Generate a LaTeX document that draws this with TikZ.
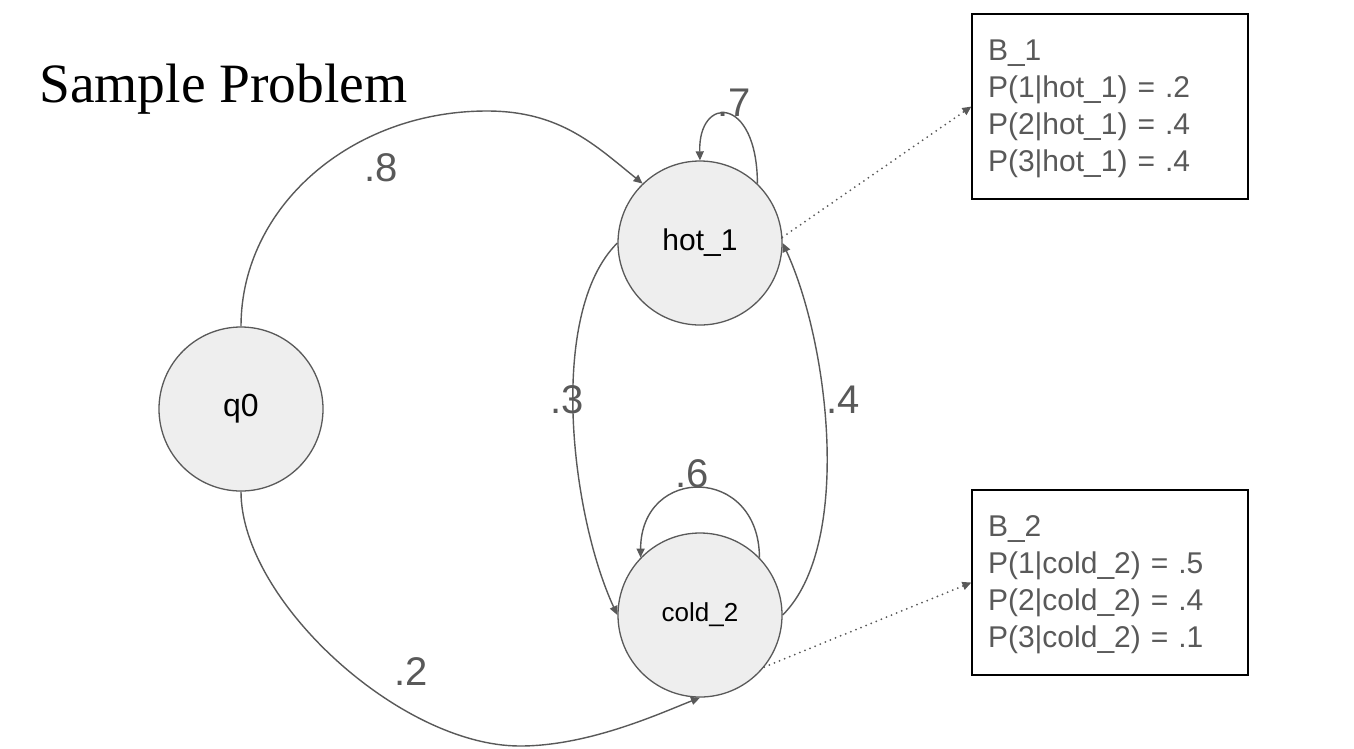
\documentclass[tikz,border=0pt]{standalone}
\usepackage{fontspec}
\setmainfont{Liberation Sans}
\newfontfamily\titlefont{Liberation Serif}
\usetikzlibrary{arrows.meta}
\definecolor{edgegray}{HTML}{595959}
\definecolor{nodefill}{HTML}{EEEEEE}
\begin{document}
\begin{tikzpicture}[x=1pt,y=-1pt,
  stnode/.style={circle,draw=edgegray,fill=nodefill,line width=1.3pt,minimum size=164pt,inner sep=0pt},
  trans/.style={draw=edgegray,line width=1.4pt,-{Triangle[length=9pt,width=8pt]}},
  prob/.style={text=edgegray,font=\fontsize{40}{40}\selectfont,inner sep=0pt},
  emis/.style={draw=black,line width=1.2pt,minimum width=276pt,minimum height=185pt,text width=244pt,align=left,inner xsep=16pt,text=edgegray,font=\fontsize{30}{37}\selectfont},
  link/.style={draw=edgegray,line width=2pt,line cap=round,dash pattern=on 0pt off 5.5pt,-{Triangle[length=9pt,width=8pt]}}]
\useasboundingbox (0,0) rectangle (1354,748);
\fill[white] (0,0) rectangle (1354,748);

\node[anchor=base west,font=\titlefont\fontsize{55.5}{55.5}\selectfont,inner sep=0pt] (title) at (39,102) {Sample Problem};

\node[stnode,font=\fontsize{32}{32}\selectfont] (q0) at (241,409) {q0};
\node[stnode,font=\fontsize{30}{30}\selectfont] (hot) at (700,243) {hot\_1};
\node[stnode,font=\fontsize{26}{26}\selectfont] (cold) at (700,615) {cold\_2};

\node[emis] (B1) at (1110,106.5) {\rule{0pt}{26pt}B\_1\\P(1|hot\_1) = .2\\P(2|hot\_1) = .4\\P(3|hot\_1) = .4};
\node[emis] (B2) at (1110,582.5) {\rule{0pt}{26pt}B\_2\\P(1|cold\_2) = .5\\P(2|cold\_2) = .4\\P(3|cold\_2) = .1};

% q0 -> hot_1
\draw[trans] (q0.north) .. controls (241,207) and (351,111) .. (487,111) .. controls (560,111) and (595,145) .. (hot.134);
\node[prob] (l8) at (381,168) {.8};
% q0 -> cold_2
\draw[trans] (q0.south) .. controls (241,600) and (400,746) .. (520,746) .. controls (590,746) and (663,712) .. (cold.south);
\node[prob] (l2) at (411,672) {.2};
% hot_1 -> cold_2
\draw[trans] (hot.west) .. controls (547,313) and (571,515) .. (cold.west);
\node[prob] (l3) at (567,400) {.3};
% cold_2 -> hot_1
\draw[trans] (cold.east) .. controls (853,545) and (829,343) .. (hot.east);
\node[prob] (l4) at (843,400) {.4};
% self loops
\draw[trans] (hot.46) .. controls (757,95) and (698,95) .. (hot.north);
\node[prob] (l7) at (734,103) {.7};
\draw[trans] (cold.44) .. controls (759,465) and (641,465) .. (cold.136);
\node[prob] (l6) at (692,474) {.6};

% emission links
\draw[link] (hot.4) -- (B1.west);
\draw[link] (cold.-39) -- (B2.west);
\end{tikzpicture}
\end{document}
